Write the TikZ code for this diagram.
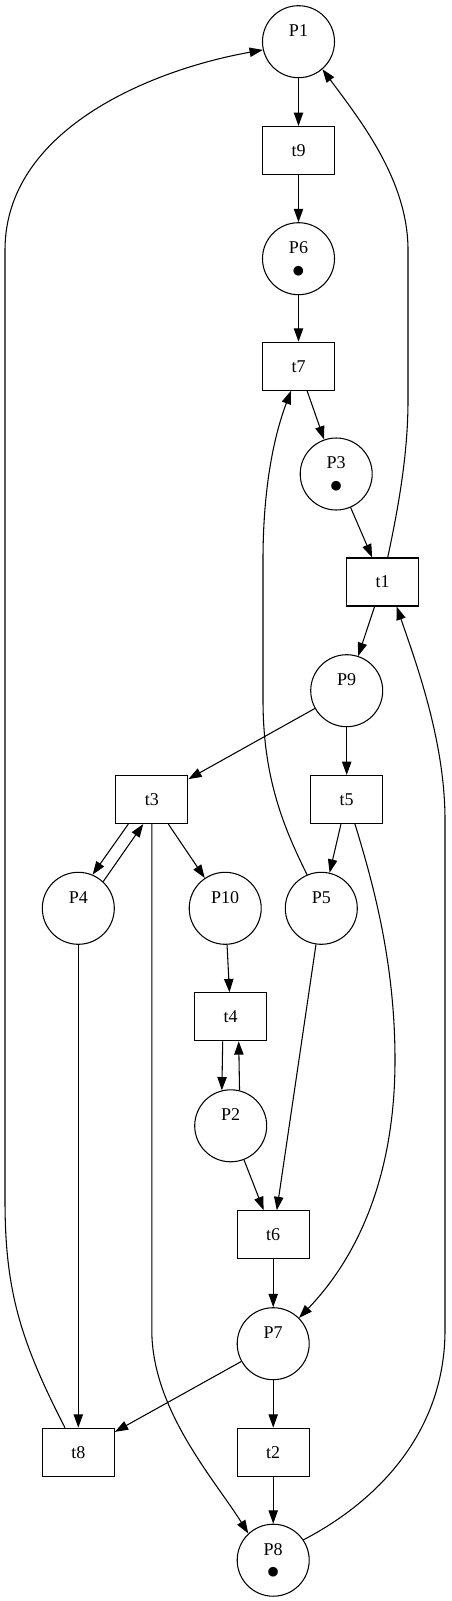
\documentclass[tikz,border=0pt]{standalone}
\usepackage{fontspec}
\setmainfont{Liberation Serif}
\newfontfamily\pnsymbol{DejaVu Sans}
\usetikzlibrary{arrows.meta}
\newcommand{\pntoken}{{\pnsymbol\fontsize{9.5}{12}\selectfont ●}}

\begin{document}
\begin{tikzpicture}[
    x=0.75pt, y=-0.75pt,
    arrowstyle/.style={draw, line width=0.8pt, -{Triangle[length=10pt, width=7pt]}},
    place/.style={circle, draw, line width=0.8pt, minimum size=54pt, inner sep=0pt,
        align=center, font=\fontsize{13.5}{15.5}\selectfont},
    transition/.style={rectangle, draw, line width=0.8pt, minimum width=54pt,
        minimum height=36pt, inner sep=0pt, font=\fontsize{13.5}{15.5}\selectfont}
]
\useasboundingbox (0,0) rectangle (451,1601);
\node (P1) [place] at (298.5,41.7) {P1\\\phantom{\pntoken}};
\node (t9) [transition] at (298.5,150.5) {t9};
\node (P6) [place] at (298.5,258.7) {P6\\\pntoken};
\node (t7) [transition] at (298.5,366.2) {t7};
\node (P3) [place] at (336.2,474) {P3\\\pntoken};
\node (t1) [transition] at (382.7,582) {t1};
\node (P9) [place] at (346.7,690.7) {P9\\\phantom{\pntoken}};
\node (t3) [transition] at (151.8,799.5) {t3};
\node (t5) [transition] at (346.7,799.5) {t5};
\node (P4) [place] at (78.3,908.3) {P4\\\phantom{\pntoken}};
\node (P10) [place] at (225.2,908.3) {P10\\\phantom{\pntoken}};
\node (P5) [place] at (321.3,908.3) {P5\\\phantom{\pntoken}};
\node (t4) [transition] at (230.7,1016.8) {t4};
\node (P2) [place] at (230.7,1125.8) {P2\\\phantom{\pntoken}};
\node (t6) [transition] at (273.2,1234.7) {t6};
\node (P7) [place] at (273.2,1343.7) {P7\\\phantom{\pntoken}};
\node (t8) [transition] at (78.3,1452.2) {t8};
\node (t2) [transition] at (273.2,1452.2) {t2};
\node (P8) [place] at (273.2,1560.2) {P8\\\pntoken};

\draw[arrowstyle] (P1) -- (t9);
\draw[arrowstyle] (t9) -- (P6);
\draw[arrowstyle] (P6) -- (t7);
\draw[arrowstyle] (t7) -- (P3);
\draw[arrowstyle] (P3) -- (t1);
\draw[arrowstyle] (t1) -- (P9);
\draw[arrowstyle] (P9) -- (t3);
\draw[arrowstyle] (P9) -- (t5);
\draw[arrowstyle] ([xshift=-17.6pt]t3.south) -- (P4.67);
\draw[arrowstyle] (P4.47) -- ([xshift=-6.4pt]t3.south);
\draw[arrowstyle] (t3) -- (P10);
\draw[arrowstyle] (t5) -- (P5);
\draw[arrowstyle] (P10) -- (t4);
\draw[arrowstyle] ([xshift=-6pt]t4.south) -- (P2.104);
\draw[arrowstyle] (P2.76) -- ([xshift=6pt]t4.south);
\draw[arrowstyle] (P2) -- (t6);
\draw[arrowstyle] (P5) -- (t6);
\draw[arrowstyle] (t6) -- (P7);
\draw[arrowstyle] (P7) -- (t8);
\draw[arrowstyle] (P7) -- (t2);
\draw[arrowstyle] (t2) -- (P8);
\draw[arrowstyle] (P4) -- (t8);
\draw[arrowstyle] ([xshift=-10pt]t8.north) .. controls (20,1340) and (5,1290) .. (5,1200)
    -- (5,250) .. controls (5,130) and (150,70) .. (P1.193);
\draw[arrowstyle] ([xshift=3.75pt]t1.north) .. controls (400,500) and (408,450) .. (408,400)
    -- (408,250) .. controls (408,180) and (360,120) .. (P1.-49);
\draw[arrowstyle] (P5.113) .. controls (285,830) and (263,780) .. (263,700)
    -- (263,560) .. controls (263,470) and (280,420) .. ([xshift=-5.6pt]t7.south);
\draw[arrowstyle] (t3.south) -- (151.8,1330) .. controls (151.8,1410) and (215,1480) .. (P8.133);
\draw[arrowstyle] ([xshift=6.2pt]t5.south) .. controls (372,880) and (395,960) .. (395,1060)
    .. controls (395,1180) and (355,1260) .. (P7.45);
\draw[arrowstyle] (P8.34) .. controls (380,1500) and (445,1430) .. (445,1330)
    -- (445,820) .. controls (445,740) and (415,660) .. ([xshift=10.5pt]t1.south);
\end{tikzpicture}
\end{document}
